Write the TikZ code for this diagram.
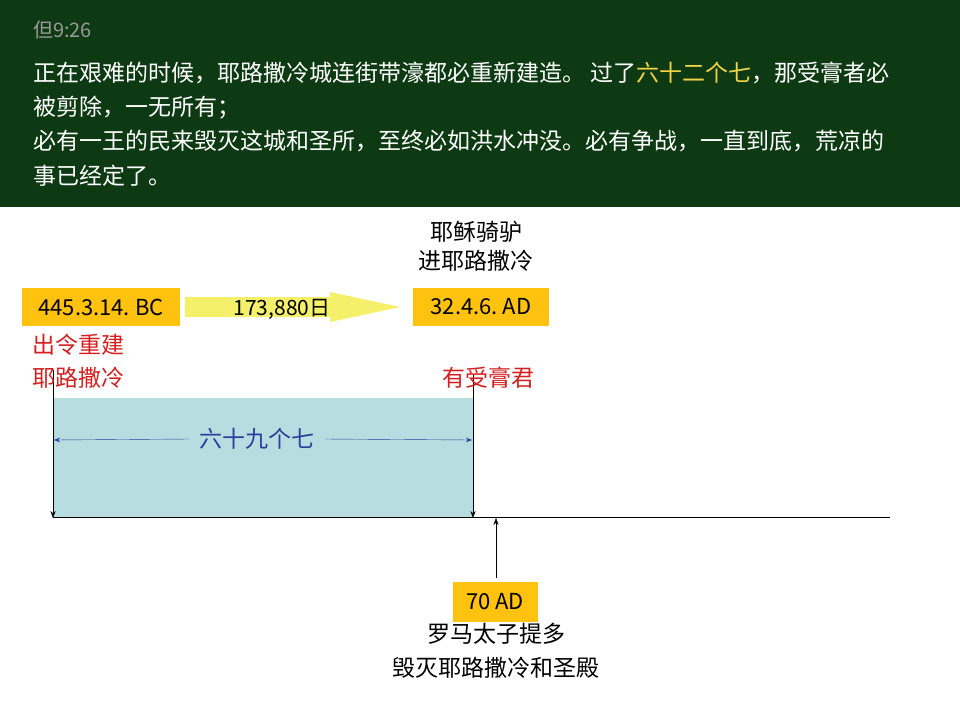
\documentclass[tikz,border=0pt]{standalone}
\usepackage{fontspec}
\setmainfont{Noto Sans CJK SC}
\usetikzlibrary{arrows.meta}
\definecolor{bg}{HTML}{0D3A12}
\definecolor{gold}{HTML}{FFC20E}
\definecolor{ay}{HTML}{F5F06A}
\definecolor{redt}{HTML}{D42020}
\definecolor{cyanf}{HTML}{B7DDE1}
\definecolor{bluet}{HTML}{2E3E9A}
\definecolor{yt}{HTML}{F2D447}
\begin{document}
\begin{tikzpicture}[x=1pt,y=-1pt,
  txt/.style={inner sep=0pt,font=\fontsize{23}{23}\selectfont},
  ybox/.style={fill=gold,minimum height=38pt,inner sep=4pt,font=\fontsize{22}{22}\selectfont},
  red/.style={txt,text=redt}]
\useasboundingbox (0,0) rectangle (960,720);
\fill[white] (0,0) rectangle (960,720);
\fill[bg] (0,0) rectangle (960,207);
\node[txt,anchor=west,text=gray!80,font=\fontsize{20}{20}\selectfont] (ref) at (33,30) {但9:26};
\node[txt,anchor=west,text=white] (l1) at (33,73) {正在艰难的时候，耶路撒冷城连街带濠都必重新建造。 过了\textcolor{yt}{六十二个七}，那受膏者必};
\node[txt,anchor=west,text=white] (l2) at (33,108) {被剪除，一无所有；};
\node[txt,anchor=west,text=white] (l3) at (33,141) {必有一王的民来毁灭这城和圣所，至终必如洪水冲没。必有争战，一直到底，荒凉的};
\node[txt,anchor=west,text=white] (l4) at (33,176) {事已经定了。};
% cyan area
\fill[cyanf] (53,398) rectangle (473,518);
\coordinate (la) at (53,370); \coordinate (lb) at (53,518);
\coordinate (ra) at (473,375); \coordinate (rb) at (473,518);
\coordinate (h1) at (53,517); \coordinate (h2) at (890,517);
\draw[-{Stealth[length=7pt]}] (la) -- (lb);
\draw[-{Stealth[length=7pt]}] (ra) -- (rb);
\draw (h1) -- (h2);
\node[txt,text=bluet] (sn) at (257,439) {六十九个七};
\coordinate (dl) at (54,440); \coordinate (dr) at (472,440);
\draw[bluet,-{Stealth[length=6pt]}] (sn.west)++(-10,0) -- (dl);
\draw[bluet,-{Stealth[length=6pt]}] (sn.east)++(10,0) -- (dr);
% yellow arrow
\fill[ay] (185,297) -- (330,297) -- (330,292) -- (400,307) -- (330,322) -- (330,317) -- (185,317) -- cycle;
\node[txt,font=\fontsize{21}{21}\selectfont] (days) at (282,309) {173,880日};
\node[ybox,minimum width=158pt] (b1) at (101,307) {445.3.14.\ BC};
\node[ybox,minimum width=136pt] (b2) at (481,307) {32.4.6.\ AD};
\node[txt] (t1) at (476,232) {耶稣骑驴};
\node[txt] (t2) at (476,261) {进耶路撒冷};
\node[red,anchor=west] (r1) at (32,345) {出令重建};
\node[red,anchor=west] (r2) at (32,378) {耶路撒冷};
\node[red] (r3) at (488,378) {有受膏君};
\node[ybox,minimum width=85pt,minimum height=40pt] (b3) at (495,602) {70 AD};
\coordinate (up) at (496,518);
\draw[-{Stealth[length=7pt]}] (496,578) -- (up);
\node[txt] (c1) at (496,634) {罗马太子提多};
\node[txt] (c2) at (496,668) {毁灭耶路撒冷和圣殿};
\end{tikzpicture}
\end{document}
